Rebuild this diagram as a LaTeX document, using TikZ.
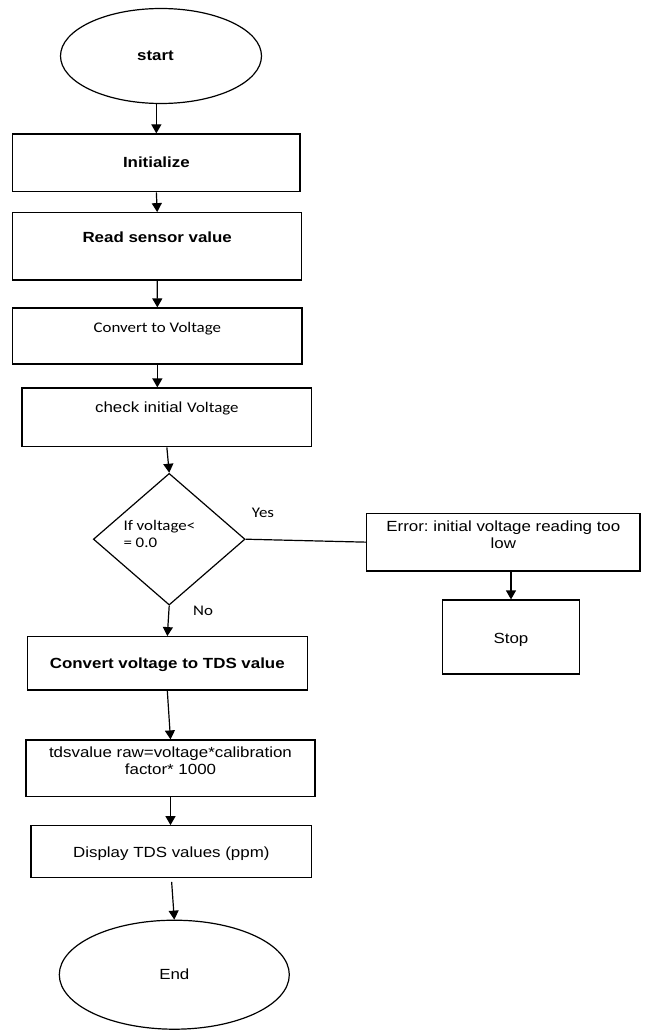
\documentclass[tikz,border=0pt]{standalone}
\usepackage{fontspec}
\setmainfont[FakeStretch=1.15]{Liberation Sans}
\newfontfamily\calib[FakeStretch=1.15]{Carlito}
\usetikzlibrary{shapes.geometric,arrows.meta,calc}
\frenchspacing
% box contents: width, height, first-baseline offset from the top, text
\newcommand{\topbox}[4]{\parbox[c][#2pt][t]{#1pt}{\centering\rule{0pt}{#3pt}#4\par}}
\begin{document}
\begin{tikzpicture}[x=1pt,y=-1pt,
  every node/.style={font=\fontsize{14.7}{17}\selectfont, inner sep=0pt},
  flowbox/.style={draw, line width=1.2pt, rectangle},
  term/.style={draw, line width=1.2pt, ellipse},
  decision/.style={draw, line width=1.2pt, diamond},
  flow/.style={line width=1.2pt, -{Triangle[length=9pt,width=10pt]}},
  plain/.style={line width=1.2pt}]
\useasboundingbox (0,0) rectangle (645,1030);

% terminals, steps and decision
\node[term, minimum width=201pt, minimum height=95pt] (start) at (161,56) {\bfseries start\hspace*{11pt}};
\node[flowbox] (init) at (156.35,162.85) {\topbox{287.3}{57.7}{33}{\bfseries Initialize}};
\node[flowbox] (read) at (157.2,246.35) {\topbox{289}{67.3}{29.3}{\bfseries Read sensor value}};
\node[flowbox] (conv) at (157.35,336) {\topbox{289.3}{56}{24.3}{\calib Convert to Voltage}};
\node[flowbox] (chk) at (166.85,417.35) {\topbox{289.7}{58.7}{24.3}{check initial {\calib Voltage}}};
\node[decision, minimum width=151.7pt, minimum height=131.7pt] (dia) at (169.2,539.2) {};
\node[anchor=base west] (cond) at (123.3,530) {\calib\begin{tabular}[t]{@{}l@{}}If voltage<\\= 0.0\end{tabular}};
\node[flowbox] (err) at (503.35,542.15) {\topbox{273.3}{57.7}{18}{Error: initial voltage reading too\\low}};
\node[flowbox] (stop) at (511,637) {\topbox{136.6}{74}{43.6}{Stop}};
\node[flowbox] (tds) at (167.3,663.35) {\topbox{280}{53.3}{31.6}{\bfseries Convert voltage to TDS value}};
\node[flowbox] (raw) at (170.5,768.35) {\topbox{289}{56.7}{17}{tdsvalue raw=voltage*calibration\\factor* 1000}};
\node[flowbox] (disp) at (171.35,851.5) {\topbox{280.7}{51.6}{31.9}{Display TDS values (ppm)}};
\node[term, minimum width=230pt, minimum height=109pt] (end) at (174.3,974.7) {End};

% branch labels
\node (yes) at (263,513) {\calib Yes};
\node (no) at (203,610.7) {\calib No};

% connectors
\draw[flow] (start.south -| init.north) -- (init.north);
\draw[flow] (init.south) -- (read.north);
\draw[flow] (read.south) -- (conv.north);
\draw[flow] (conv.south) -- (conv.south |- chk.north);
\draw[flow] (chk.south) -- (dia.north);
\draw[plain] (dia.east) -- (err.west);
\draw[flow] (stop.north |- err.south) -- (stop.north);
\draw[flow] (dia.south) -- (tds.north);
\draw[flow] (tds.south) -- (raw.north);
\draw[flow] (raw.south) -- (raw.south |- disp.north);
\draw[flow, shorten <=4pt] (disp.south) -- (end.north);
\end{tikzpicture}
\end{document}
